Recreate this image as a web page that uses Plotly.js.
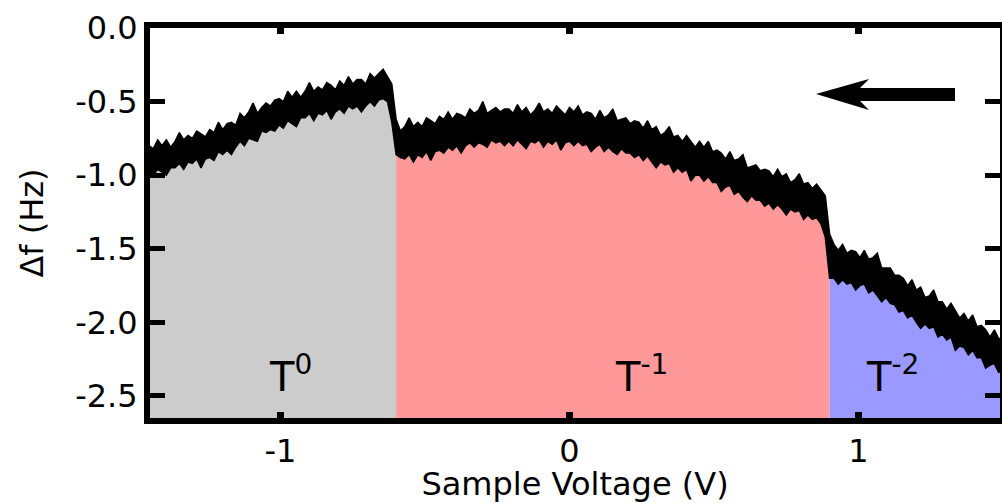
<!DOCTYPE html>
<html>
<head>
<meta charset="utf-8">
<script src="https://cdn.plot.ly/plotly-3.0.1.min.js"></script>
<style>html,body{margin:0;padding:0;background:#fff;}#chart{width:1002px;height:503px;}</style>
</head>
<body>
<div id="chart"></div>
<script>
// Sample voltage (V); Δf (Hz) noise band read as upper / lower envelope, per charge-state region
const voltsT0 = [-1.455,-1.44,-1.425,-1.41,-1.395,-1.38,-1.365,-1.35,-1.335,-1.32,
  -1.305,-1.29,-1.275,-1.26,-1.245,-1.23,-1.215,-1.2,-1.185,-1.17,
  -1.155,-1.14,-1.125,-1.11,-1.095,-1.08,-1.065,-1.05,-1.035,-1.02,
  -1.005,-0.99,-0.975,-0.96,-0.945,-0.93,-0.915,-0.9,-0.885,-0.87,
  -0.855,-0.84,-0.825,-0.81,-0.795,-0.78,-0.765,-0.75,-0.735,-0.72,
  -0.705,-0.69,-0.675,-0.66,-0.645,-0.63,-0.615,-0.6];
const dfUpperT0 = [-0.80,-0.82,-0.76,-0.80,-0.76,-0.81,-0.77,-0.71,-0.76,-0.73,
  -0.75,-0.70,-0.72,-0.74,-0.69,-0.71,-0.64,-0.69,-0.65,-0.64,
  -0.66,-0.58,-0.61,-0.57,-0.51,-0.58,-0.54,-0.51,-0.53,-0.49,
  -0.48,-0.50,-0.43,-0.47,-0.43,-0.47,-0.43,-0.37,-0.43,-0.40,
  -0.42,-0.37,-0.39,-0.42,-0.36,-0.39,-0.33,-0.38,-0.35,-0.35,
  -0.38,-0.31,-0.34,-0.31,-0.28,-0.33,-0.38,-0.62];
const dfLowerT0 = [-0.98,-1.00,-0.96,-0.98,-1.00,-0.95,-0.95,-0.92,-0.96,-0.91,
  -0.92,-0.89,-0.95,-0.89,-0.88,-0.90,-0.84,-0.86,-0.83,-0.86,
  -0.81,-0.77,-0.80,-0.75,-0.76,-0.77,-0.70,-0.71,-0.69,-0.70,
  -0.66,-0.68,-0.63,-0.65,-0.67,-0.61,-0.61,-0.58,-0.63,-0.58,
  -0.59,-0.56,-0.62,-0.57,-0.55,-0.58,-0.53,-0.55,-0.53,-0.57,
  -0.53,-0.50,-0.53,-0.49,-0.48,-0.50,-0.64,-0.86];

const voltsT1 = [-0.6,-0.585,-0.57,-0.555,-0.54,-0.525,-0.51,-0.495,-0.48,-0.465,
  -0.45,-0.435,-0.42,-0.405,-0.39,-0.375,-0.36,-0.345,-0.33,-0.315,
  -0.3,-0.285,-0.27,-0.255,-0.24,-0.225,-0.21,-0.195,-0.18,-0.165,
  -0.15,-0.135,-0.12,-0.105,-0.09,-0.075,-0.06,-0.045,-0.03,-0.015,
  0,0.015,0.03,0.045,0.06,0.075,0.09,0.105,0.12,0.135,
  0.15,0.165,0.18,0.195,0.21,0.225,0.24,0.255,0.27,0.285,
  0.3,0.315,0.33,0.345,0.36,0.375,0.39,0.405,0.42,0.435,
  0.45,0.465,0.48,0.495,0.51,0.525,0.54,0.555,0.57,0.585,
  0.6,0.615,0.63,0.645,0.66,0.675,0.69,0.705,0.72,0.735,
  0.75,0.765,0.78,0.795,0.81,0.825,0.84,0.855,0.87,0.885,
  0.9];
const dfUpperT1 = [-0.62,-0.70,-0.67,-0.61,-0.67,-0.64,-0.67,-0.61,-0.63,-0.65,
  -0.60,-0.62,-0.57,-0.62,-0.58,-0.59,-0.61,-0.55,-0.58,-0.56,
  -0.50,-0.58,-0.56,-0.54,-0.57,-0.55,-0.55,-0.58,-0.52,-0.57,
  -0.54,-0.59,-0.56,-0.51,-0.57,-0.55,-0.58,-0.53,-0.56,-0.59,
  -0.54,-0.57,-0.53,-0.59,-0.57,-0.58,-0.62,-0.56,-0.61,-0.59,
  -0.55,-0.63,-0.62,-0.61,-0.65,-0.63,-0.64,-0.68,-0.63,-0.69,
  -0.67,-0.73,-0.71,-0.67,-0.74,-0.73,-0.77,-0.73,-0.77,-0.81,
  -0.77,-0.81,-0.77,-0.84,-0.83,-0.85,-0.89,-0.84,-0.90,-0.89,
  -0.86,-0.95,-0.94,-0.93,-0.97,-0.96,-0.97,-1.01,-0.96,-1.01,
  -0.99,-1.05,-1.03,-0.99,-1.06,-1.05,-1.09,-1.06,-1.10,-1.14,
  -1.40];
const dfLowerT1 = [-0.86,-0.88,-0.89,-0.86,-0.91,-0.86,-0.88,-0.84,-0.90,-0.84,
  -0.83,-0.85,-0.81,-0.83,-0.80,-0.85,-0.80,-0.78,-0.81,-0.78,
  -0.79,-0.81,-0.76,-0.78,-0.77,-0.80,-0.77,-0.80,-0.76,-0.79,
  -0.82,-0.77,-0.78,-0.76,-0.81,-0.77,-0.79,-0.76,-0.83,-0.78,
  -0.77,-0.80,-0.77,-0.80,-0.79,-0.84,-0.81,-0.79,-0.84,-0.81,
  -0.84,-0.86,-0.82,-0.85,-0.85,-0.88,-0.86,-0.90,-0.87,-0.91,
  -0.95,-0.91,-0.93,-0.92,-0.98,-0.95,-0.98,-0.96,-1.04,-1.00,
  -1.00,-1.04,-1.01,-1.05,-1.05,-1.11,-1.08,-1.07,-1.13,-1.11,
  -1.15,-1.18,-1.14,-1.17,-1.17,-1.21,-1.19,-1.23,-1.20,-1.23,
  -1.27,-1.23,-1.25,-1.24,-1.30,-1.27,-1.30,-1.29,-1.33,-1.42,
  -1.70];

const voltsT2 = [0.9,0.915,0.93,0.945,0.96,0.975,0.99,1.005,1.02,1.035,
  1.05,1.065,1.08,1.095,1.11,1.125,1.14,1.155,1.17,1.185,
  1.2,1.215,1.23,1.245,1.26,1.275,1.29,1.305,1.32,1.335,
  1.35,1.365,1.38,1.395,1.41,1.425,1.44,1.455,1.47,1.485,
  1.5];
const dfUpperT2 = [-1.40,-1.47,-1.51,-1.47,-1.53,-1.51,-1.52,-1.56,-1.51,-1.57,
  -1.56,-1.53,-1.63,-1.63,-1.63,-1.68,-1.68,-1.70,-1.75,-1.71,
  -1.78,-1.76,-1.83,-1.82,-1.78,-1.86,-1.86,-1.91,-1.87,-1.92,
  -1.97,-1.94,-1.99,-1.95,-2.03,-2.02,-2.05,-2.10,-2.05,-2.11,
  -2.11];
const dfLowerT2 = [-1.70,-1.70,-1.74,-1.71,-1.74,-1.73,-1.78,-1.75,-1.74,-1.80,
  -1.78,-1.82,-1.86,-1.83,-1.87,-1.88,-1.93,-1.92,-1.97,-1.95,
  -2.00,-2.04,-2.01,-2.04,-2.03,-2.10,-2.08,-2.12,-2.10,-2.19,
  -2.16,-2.17,-2.22,-2.19,-2.24,-2.24,-2.31,-2.29,-2.28,-2.34,
  -2.33];

const regionLabels = ['T<sup>0</sup>', 'T<sup>-1</sup>', 'T<sup>-2</sup>'];
const regionLabelV = [-1.047, 0.150, 1.019];
const regionColors = ['#cccccc', '#ff9999', '#9999ff'];
const xTickVals = [-1, 0, 1];
const xTickText = ['-1', '0', '1'];
const yTickVals = [0, -0.5, -1.0, -1.5, -2.0, -2.5];
const yTickText = ['0.0', '-0.5', '-1.0', '-1.5', '-2.0', '-2.5'];
// sweep-direction arrow outline (V, Hz)
const arrowV  = [0.853, 1.0363, 1.0052, 1.3339, 1.3339, 1.0052, 1.0363];
const arrowDf = [-0.448, -0.3465, -0.4076, -0.4076, -0.4959, -0.4959, -0.5571];

const FLOOR = -3;
const segs = [[voltsT0, dfLowerT0], [voltsT1, dfLowerT1], [voltsT2, dfLowerT2]];
const traces = segs.map((s, i) => ({
  x: s[0].concat([s[0][s[0].length - 1], s[0][0]]),
  y: s[1].concat([FLOOR, FLOOR]),
  type: 'scatter', mode: 'lines', fill: 'toself',
  fillcolor: regionColors[i], line: {width: 0, color: regionColors[i]},
  hoverinfo: 'skip', showlegend: false
}));
const allV = voltsT0.concat(voltsT1.slice(1), voltsT2.slice(1));
const allUp = dfUpperT0.concat(dfUpperT1.slice(1), dfUpperT2.slice(1));
const allLo = dfLowerT0.concat(dfLowerT1.slice(1), dfLowerT2.slice(1));
traces.push({
  x: allV.concat(allV.slice().reverse()),
  y: allUp.concat(allLo.slice().reverse()),
  type: 'scatter', mode: 'lines', fill: 'toself', fillcolor: '#000000',
  line: {color: '#000000', width: 1.5, simplify: false},
  showlegend: false
});

let arrowPath = 'M' + arrowV.map((v, i) => v + ',' + arrowDf[i]).join(' L') + ' Z';

const FONT = 'DejaVu Sans, sans-serif';
const layout = {
  width: 1002, height: 503,
  margin: {l: 150, r: 2, t: 28, b: 85},
  paper_bgcolor: '#ffffff', plot_bgcolor: '#ffffff',
  font: {family: FONT, color: '#000000', size: 32},
  showlegend: false,
  xaxis: {
    range: [-1.4516, 1.4896], showgrid: false, zeroline: false,
    showline: true, linewidth: 6, linecolor: '#000000', mirror: 'ticks',
    ticks: 'inside', ticklen: 6, tickwidth: 7, tickcolor: '#000000',
    tickvals: xTickVals, ticktext: xTickText,
    tickfont: {family: FONT, size: 32},
    title: {text: 'Sample Voltage (V)', font: {family: FONT, size: 32}, standoff: 5}
  },
  yaxis: {
    range: [-2.6495, 0], showgrid: false, zeroline: false,
    showline: true, linewidth: 6, linecolor: '#000000', mirror: 'ticks',
    ticks: 'inside', ticklen: 15, tickwidth: 5, tickcolor: '#000000',
    tickvals: yTickVals, ticktext: yTickText,
    tickfont: {family: FONT, size: 32},
    title: {text: 'Δf (Hz)', font: {family: FONT, size: 32}, standoff: 24}
  },
  shapes: [{
    type: 'path', xref: 'x', yref: 'y', path: arrowPath,
    fillcolor: '#000000', line: {width: 0}, layer: 'above'
  }],
  annotations: regionLabels.map((t, i) => ({
    text: t, x: regionLabelV[i], y: -2.54, xref: 'x', yref: 'y',
    xanchor: 'left', yanchor: 'bottom', showarrow: false,
    font: {family: FONT, size: 40, color: '#000000'}
  }))
};

Plotly.newPlot('chart', traces, layout, {displayModeBar: false, staticPlot: true});
</script>
</body>
</html>
